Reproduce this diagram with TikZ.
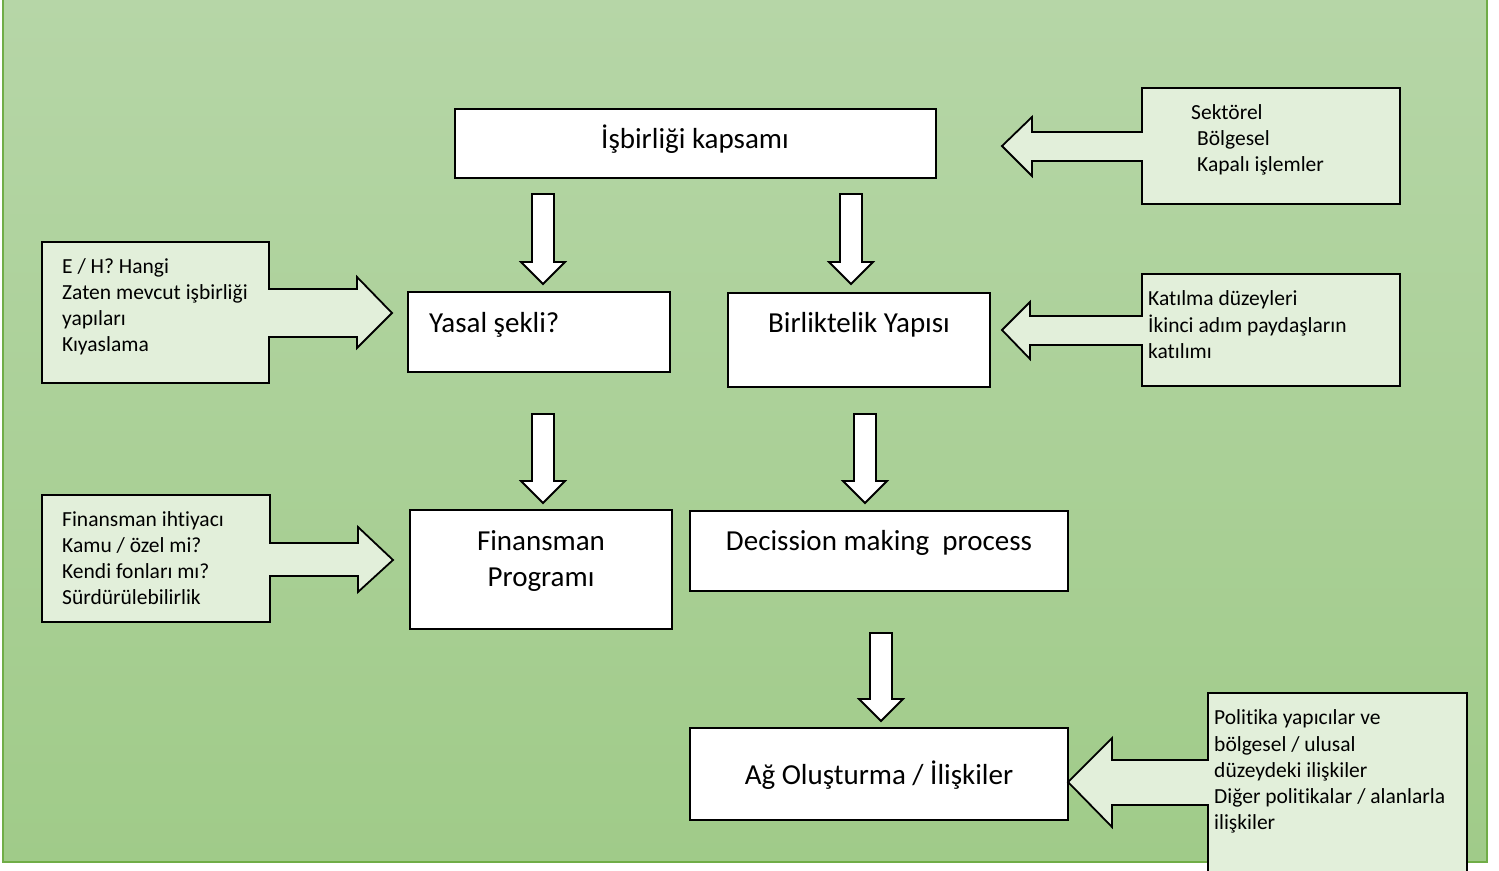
\documentclass[tikz,border=0pt]{standalone}
\usepackage{fontspec}
\setmainfont{Carlito}[Ligatures=NoCommon]
\definecolor{bgtop}{RGB}{182,214,167}
\definecolor{bgbot}{RGB}{160,203,137}
\definecolor{bgedge}{RGB}{112,173,71}
\definecolor{callfill}{RGB}{226,239,218}
\tikzset{
  mainbox/.style={draw=black, line width=1.8pt, fill=white, inner sep=0pt},
  maintxt/.style={font=\fontsize{29}{35}\selectfont, inner sep=0pt, text=black},
  calltxt/.style={font=\fontsize{21.5}{26}\selectfont, inner sep=0pt, anchor=base west, text=black},
  callshape/.style={draw=black, line width=1.8pt, fill=callfill, line join=miter},
  blockarrow/.style={draw=black, line width=1.8pt, fill=white, line join=miter},
}
\newcommand{\blockdown}[4]{%
  \draw[blockarrow] ({#1-11},#2) -- ({#1+11},#2) -- ({#1+11},#3) -- ({#1+22},#3)
    -- (#1,#4) -- ({#1-22},#3) -- ({#1-11},#3) -- cycle;}
\begin{document}
\begin{tikzpicture}[x=1pt,y=-1pt]
\useasboundingbox (0,0) rectangle (1499,870);
\clip (0,0) rectangle (1499,870);
\fill[white] (0,0) rectangle (1499,870);
% background panel
\shade[top color=bgtop, bottom color=bgbot] (3,-2) rectangle (1487,862);
\draw[bgedge, line width=1.5pt] (3,-5) -- (3,862) -- (1487,862) -- (1487,-5);

% main boxes
\node[mainbox, minimum width=481pt, minimum height=69pt] (scope) at (695.5,143.5) {};
\node[mainbox, minimum width=262pt, minimum height=80pt] (legal) at (539,332) {};
\node[mainbox, minimum width=262pt, minimum height=94pt] (union) at (859,340) {};
\node[mainbox, minimum width=262pt, minimum height=119pt] (fin) at (541,569.5) {};
\node[mainbox, minimum width=378pt, minimum height=80pt] (dec) at (879,551) {};
\node[mainbox, minimum width=378pt, minimum height=92pt] (net) at (879,774) {};

% main texts
\node[maintxt, anchor=base] (scopet) at (695,148) {İşbirliği kapsamı};
\node[maintxt, anchor=base west] (legalt) at (429,332) {Yasal şekli?};
\node[maintxt, anchor=base] (uniont) at (859,332) {Birliktelik Yapısı};
\node[maintxt, anchor=base] (fint1) at (541,550) {Finansman};
\node[maintxt, anchor=base] (fint2) at (541,586) {Programı};
\node[maintxt, anchor=base] (dect) at (879,550) {Decission making\ \ process};
\node[maintxt, anchor=base] (nett) at (879,784) {Ağ Oluşturma / İlişkiler};

% block arrows down
\blockdown{543}{194}{262}{284}
\blockdown{851}{194}{262}{284}
\blockdown{543}{414}{481}{503}
\blockdown{865}{414}{481}{503}
\blockdown{881}{633}{699}{721}

% callouts right side (arrows pointing left)
\draw[callshape] (1142,88) -- (1400,88) -- (1400,204) -- (1142,204) -- (1142,161)
  -- (1032,161) -- (1032,176) -- (1002,146) -- (1032,117) -- (1032,132) -- (1142,132) -- cycle;
\draw[callshape] (1142,274) -- (1400,274) -- (1400,386) -- (1142,386) -- (1142,345)
  -- (1030,345) -- (1030,359) -- (1002,330) -- (1030,302) -- (1030,316) -- (1142,316) -- cycle;
\draw[callshape] (1208,693) -- (1467,693) -- (1467,900) -- (1208,900) -- (1208,805)
  -- (1112,805) -- (1112,827) -- (1068,782) -- (1112,738) -- (1112,760) -- (1208,760) -- cycle;
% callouts left side (arrows pointing right)
\draw[callshape] (42,242) -- (269,242) -- (269,289) -- (357,289) -- (357,277) -- (392,313)
  -- (357,348) -- (357,337) -- (269,337) -- (269,383) -- (42,383) -- cycle;
\draw[callshape] (42,495) -- (270,495) -- (270,543) -- (358,543) -- (358,527) -- (393,560)
  -- (358,592) -- (358,576) -- (270,576) -- (270,622) -- (42,622) -- cycle;

% callout texts
\node[calltxt] (r1a) at (1191,119) {Sektörel};
\node[calltxt] (r1b) at (1197,145) {Bölgesel};
\node[calltxt] (r1c) at (1197,171) {Kapalı işlemler};

\node[calltxt] (r2a) at (1148,305) {Katılma düzeyleri};
\node[calltxt] (r2b) at (1148,332) {İkinci adım paydaşların};
\node[calltxt] (r2c) at (1148,358) {katılımı};

\node[calltxt] (l1a) at (62,273) {E / H? Hangi};
\node[calltxt] (l1b) at (62,299) {Zaten mevcut işbirliği};
\node[calltxt] (l1c) at (62,325) {yapıları};
\node[calltxt] (l1d) at (62,351) {Kıyaslama};

\node[calltxt] (l2a) at (62,526) {Finansman ihtiyacı};
\node[calltxt] (l2b) at (62,552) {Kamu / özel mi?};
\node[calltxt] (l2c) at (62,578) {Kendi fonları mı?};
\node[calltxt] (l2d) at (62,604) {Sürdürülebilirlik};

\node[calltxt] (r3a) at (1214,724) {Politika yapıcılar ve};
\node[calltxt] (r3b) at (1214,751) {bölgesel / ulusal};
\node[calltxt] (r3c) at (1214,777) {düzeydeki ilişkiler};
\node[calltxt] (r3d) at (1214,803) {Diğer politikalar / alanlarla};
\node[calltxt] (r3e) at (1214,829) {ilişkiler};
\end{tikzpicture}
\end{document}
